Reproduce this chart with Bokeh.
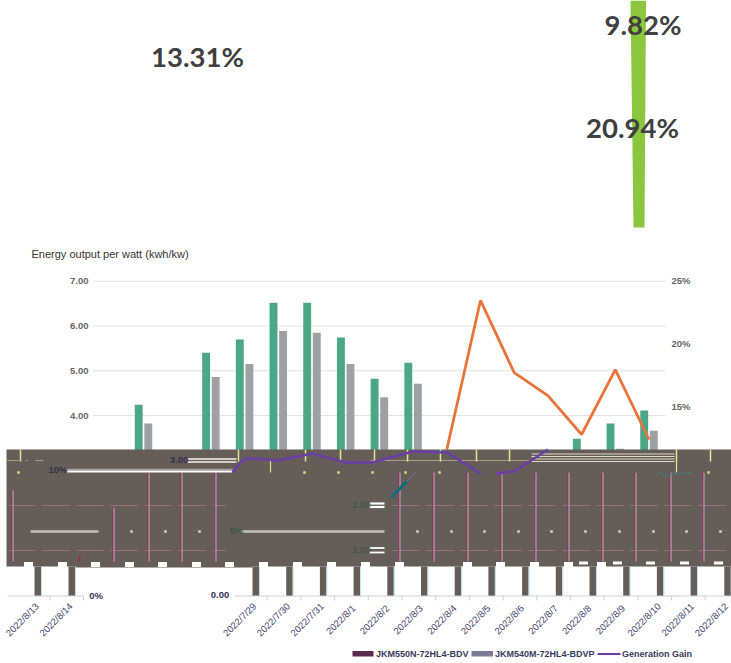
from bokeh.plotting import figure
from bokeh.models import Range1d
from bokeh.core.properties import value
from bokeh.embed import file_html
from bokeh.resources import INLINE

nan = float("nan")

# ---- data ----
categories = ["2022/7/29", "2022/7/30", "2022/7/31", "2022/8/1", "2022/8/2", "2022/8/3", "2022/8/4",
              "2022/8/5", "2022/8/6", "2022/8/7", "2022/8/8", "2022/8/9", "2022/8/10", "2022/8/11",
              "2022/8/12", "2022/8/13", "2022/8/14"]
series_n = [nan, 4.24, nan, 5.40, 5.70, 6.52, 6.52, 5.74, 4.82, 5.18, nan, nan, nan, nan, 3.48, 3.82, 4.11]
series_m = [nan, 3.82, nan, 4.86, 5.15, 5.89, 5.85, 5.15, 4.41, 4.71, nan, nan, nan, nan, nan, 3.26, 3.66]
gain_upper_idx = [10, 11, 12, 13, 14, 15, 16]
gain_upper = [11.62, 23.49, 17.75, 15.92, 12.82, 17.99, 12.42]
gain_band_idx = [3.64, 4, 5, 6, 7, 7.78, 9, 10, 11, nan, 11.45, 12, 13]
gain_band = [9.79, 10.93, 10.75, 11.31, 10.59, 10.59, 11.46, 11.39, 9.71, nan, 9.71, 9.87, 11.62]
left_ticks = [7, 6, 5, 4]
left_labels = ["7.00", "6.00", "5.00", "4.00"]
right_ticks = [25, 20, 15]
right_labels = ["25%", "20%", "15%"]
kpi_labels = ["13.31%", "9.82%", "20.94%"]
title_text = "Energy output per watt (kwh/kw)"
legend_labels = ["JKM550N-72HL4-BDV", "JKM540M-72HL4-BDVP", "Generation Gain"]

# ---- scale helpers: window pixels <-> data ----
W, H = 731, 663
X0, DX = 109.3, 33.7
Y0, DY = 594.1, 44.77
P0, DP = 595.0, 12.56
def X(px): return (px - X0) / DX
def Y(py): return (Y0 - py) / DY

p = figure(width=W, height=H, output_backend="svg", toolbar_location=None, min_border=0,
           x_axis_location=None, y_axis_location=None, outline_line_color=None,
           x_range=Range1d(X(0), X(W)), y_range=Range1d(Y(H), Y(0)))
p.grid.visible = False
p.extra_y_ranges = {"pct": Range1d((P0 - H) / DP, P0 / DP)}

FONT = value("Liberation Sans")
def txt(xs, ys, t, size, color, align="center", bold=False, angle=0, font=FONT, dy=-1, **kw):
    p.text(xs, ys, text=t, text_font=font, text_font_size=f"{size}px", text_color=color, text_align=align,
           text_baseline="middle", text_font_style="bold" if bold else "normal", angle=angle, y_offset=dy, **kw)

def hbars(segs, color, h):
    for x1, x2, y in segs:
        p.quad(left=[X(x1)], right=[X(x2)], top=[Y(y - h / 2)], bottom=[Y(y + h / 2)], fill_color=color, line_color=None)

# green funnel slice
p.patch([X(630), X(645.5), X(644), X(633)], [Y(0), Y(0), Y(227), Y(227)], fill_color="#8cc63f", line_color=None)

# KPI texts
KPI = value("Lato")
txt([X(197), X(642.5), X(632)], [Y(58), Y(26), Y(129)], kpi_labels, 27.5, "#404040", bold=True, font=KPI, dy=-2)

# title and axis labels
txt([X(31)], [Y(254)], [title_text], 11, "#333333", align="left")
txt([X(88)] * 4, left_ticks, left_labels, 9.5, "#666666", align="right", bold=True, dy=0)
txt([X(671)] * 3, right_ticks, right_labels, 9.5, "#666666", align="left", bold=True, y_range_name="pct")

# grid
grid_vals = [7, 6, 5, 4, 3]
p.segment([X(92.5)] * 5, grid_vals, [X(665)] * 5, grid_vals, line_color="#e2e2e2", line_width=1)

# bars
idx = list(range(len(categories)))
p.vbar(x=[i - 0.142 for i in idx], top=series_n, bottom=0, width=0.235, fill_color="#4ba785", line_color=None)
p.vbar(x=[i + 0.142 for i in idx], top=series_m, bottom=0, width=0.235, fill_color="#9ea0a4", line_color=None)

# gain line, above the band
p.line(gain_upper_idx, gain_upper, y_range_name="pct", line_color="#e8743b", line_width=2.8)

# broken band
BAND = "#655d58"
p.quad(left=[X(6)], right=[X(731)], top=[Y(449)], bottom=[Y(567)], fill_color=BAND, line_color=None)
p.quad(left=[X(6)], right=[X(731)], top=[Y(566)], bottom=[Y(595.5)], fill_color="white", line_color=None)
p.quad(left=[X(74)], right=[X(252)], top=[Y(563)], bottom=[Y(567)], fill_color=BAND, line_color=None)

# columns of the bottom strip
col_left = [34, 68] + [252 + 33.7 * j for j in range(15)]
p.quad(left=[X(c) for c in col_left], right=[X(c + 6.5) for c in col_left], top=Y(566), bottom=Y(595.5),
       fill_color=BAND, line_color=None)
p.segment([X(c + 7) for c in col_left], Y(566), [X(c + 7) for c in col_left], Y(595.5), line_color="#bfe3ee", line_width=1)
# nubs
nubs = [28, 62, 95, 129, 162, 196, 229, 263, 297, 331, 365, 399, 467, 500, 534, 568, 601]
p.quad(left=[X(n - 4.5) for n in nubs], right=[X(n + 4.5) for n in nubs], top=Y(561.5), bottom=Y(566.5),
       fill_color="white", line_color=None)
rnubs = [583, 617, 650, 684, 718]
p.quad(left=[X(n - 4.5) for n in rnubs], right=[X(n + 4.5) for n in rnubs], top=Y(561), bottom=Y(564),
       fill_color="white", line_color=None)

# faint dashed lines
for yy in (505, 550):
    p.segment([X(8), X(392)], [Y(yy)] * 2, [X(225), X(731)], [Y(yy)] * 2, line_color="#94737a", line_width=1, line_dash="27 7")

# vertical streaks
vx = [147, 180, 214, 398, 432, 466, 500, 534, 567, 601, 634, 669, 702]
p.segment([X(v + 0.5) for v in vx], Y(472), [X(v + 0.5) for v in vx], Y(561), line_color="#9a2d50", line_width=1.2)
p.segment([X(v + 1.5) for v in vx], Y(472), [X(v + 1.5) for v in vx], Y(561), line_color="#c3b0cf", line_width=1)
p.segment([X(11.5), X(112.5)], [Y(490), Y(507)], [X(11.5), X(112.5)], [Y(561), Y(561)], line_color="#9a2d50", line_width=1.2)
p.segment([X(12.5), X(113.5)], [Y(490), Y(507)], [X(12.5), X(113.5)], [Y(561), Y(561)], line_color="#c3b0cf", line_width=1)
p.segment([X(79)], [Y(555)], [X(79)], [Y(561)], line_color="#9a2d50", line_width=1.5)

# white dots
dots = [131, 165, 199, 417, 451, 484, 518, 551, 585, 619, 653, 686, 720]
p.scatter([X(d) for d in dots], Y(531), size=2.5, marker="square", fill_color="#d8d4d0", line_color=None)

# horizontal streaks
hbars([(30, 98, 531), (241, 384, 531)], "#c4c0bb", 2.5)
hbars([(66, 232, 469)], "#a8a4a0", 1.5)
hbars([(66, 232, 471)], "#ffffff", 2)
hbars([(187, 236, 458.5), (187, 236, 461.5)], "#f4f2ee", 1.3)
hbars([(531, 674, 453.5), (531, 674, 456), (531, 674, 458.5), (531, 674, 461)], "#dcdcc8", 1)
hbars([(369, 384, 503), (369, 384, 506.5)], "#ffffff", 2.2)
hbars([(369, 384, 547.5), (369, 384, 552)], "#ffffff", 1.8)
hbars([(7, 18, 460), (25, 27, 460), (35, 43, 460), (370, 530, 460)], "#a89f80", 1)

# yellow marks
ticks = [20, 238, 305, 340, 374, 407, 440, 476, 509, 676, 710]
p.segment([X(t) for t in ticks], Y(449), [X(t) for t in ticks], Y(461), line_color="#dfe88f", line_width=1.5)
p.segment([X(270)], [Y(460)], [X(270)], [Y(472)], line_color="#dfe88f", line_width=1.2)
p.segment([X(676)], [Y(460)], [X(676)], [Y(472)], line_color="#dfe88f", line_width=1.2)
ydots = [18, 304, 338, 372, 405, 439, 708]
p.scatter([X(d) for d in ydots], Y(472), size=2.5, marker="square", fill_color="#cfe08a", line_color=None)

# teal fragments
p.line([X(391), X(406)], [Y(497), Y(481)], line_color="#0e6b80", line_width=3)
p.line([X(406), X(415)], [Y(481), Y(472)], line_color="#5a7f8a", line_width=1)
p.line([X(658), X(665), X(690)], [Y(472), Y(475), Y(472)], line_color="#3f7f82", line_width=1.2, line_dash="4 1")

# gain line, inside the band
p.line(gain_band_idx, gain_band, y_range_name="pct", line_color="#6a3fa5", line_width=2.5)

# band labels
txt([X(178.5), X(57.5)], [Y(460), Y(470)], ["3.00", "10%"], 9.5, "#33334a", bold=True)
txt([X(361), X(361), X(236)], [Y(505), Y(550), Y(531)], ["2.00", "1.00", "5%"], 9.5, "#2d5a3c")
txt([X(95.5)], [Y(596)], ["0%"], 9.5, "#33334f", bold=True)
txt([X(219.5)], [Y(595)], ["0.00"], 9.5, "#33334f", bold=True)

# bottom axis
p.segment([X(7), X(234)], [Y(595.5)] * 2, [X(83), X(731)], [Y(595.5)] * 2, line_color="#cfcfdc", line_width=1)
wrap, shift = 21.45, 3.85
lab_x = [i + shift - (wrap if i + shift > X(725) else 0) for i in idx]
tick_x = [x + 0.82 for x in lab_x]
p.segment(tick_x, Y(595.5), tick_x, Y(600), line_color="#cfcfdc", line_width=1)
txt(lab_x, [Y(620)] * len(lab_x), categories, 9.5, "#44466a", angle=0.785)

# legend
p.quad(left=[X(352)], right=[X(373)], top=[Y(650.5)], bottom=[Y(656)], fill_color="#5c2a4c", line_color=None)
p.quad(left=[X(471)], right=[X(492.5)], top=[Y(650.5)], bottom=[Y(656)], fill_color="#7c7c98", line_color=None)
p.segment([X(597)], [Y(653.5)], [X(620)], [Y(653.5)], line_color="#6a3fa5", line_width=2)
txt([X(375.5), X(494.5), X(621.5)], [Y(654)] * 3, legend_labels, 9, "#3a3a5c", align="left", bold=True)

open("out.html", "w").write(file_html(p, INLINE))
